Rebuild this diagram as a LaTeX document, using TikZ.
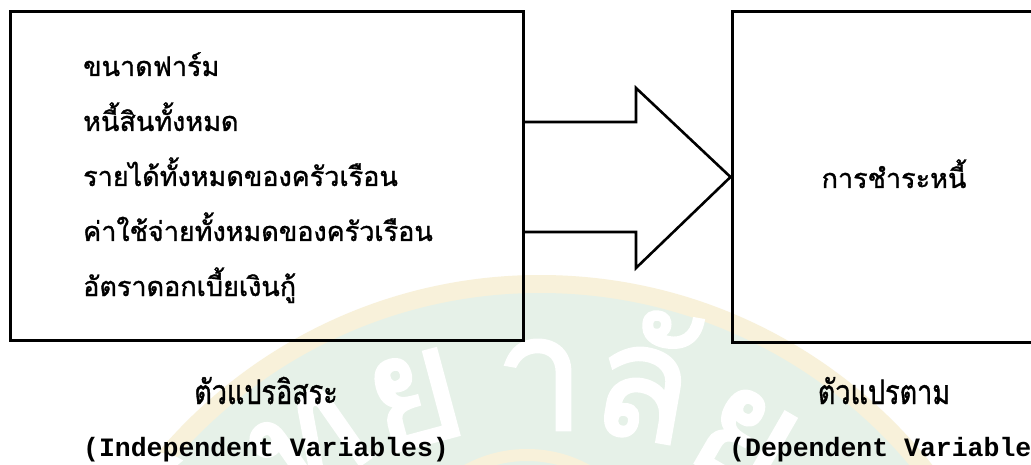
\documentclass[tikz,border=0pt]{standalone}
\usepackage{fontspec}
\usepackage{graphicx}
\newfontfamily\thaifont[Script=Thai,FakeBold=1.2]{Loma}
\newfontfamily\wmfont[Script=Thai,FakeBold=2]{Loma}
\newfontfamily\engfont{Liberation Mono}
\usetikzlibrary{calc}
\definecolor{wmgreen}{HTML}{E6F1E8}
\definecolor{wmcream}{HTML}{F8F1DA}
\newcommand{\tall}[1]{\scalebox{1}[1.25]{#1}}
\begin{document}
\begin{tikzpicture}[x=1pt,y=-1pt,
  box/.style={draw=black, line width=3pt, rectangle, inner sep=0pt},
  arrowline/.style={draw=black, line width=2.6pt, line join=miter},
  item/.style={anchor=base west, inner sep=0pt, font=\thaifont\fontsize{27}{27}\selectfont},
  thlabel/.style={anchor=base, inner sep=0pt, font=\thaifont\fontsize{27}{27}\selectfont},
  enlabel/.style={anchor=base, inner sep=0pt, font=\engfont\bfseries\fontsize{26.5}{26.5}\selectfont},
  wmletter/.style={inner sep=0pt, text=white, font=\wmfont\fontsize{160}{160}\selectfont}]
\useasboundingbox (0,0) rectangle (1031,465);
\fill[white] (0,0) rectangle (1031,465);
% watermark
\fill[wmcream] (540,775) circle[radius=500pt];
\fill[wmgreen] (540,775) circle[radius=482pt];
\draw[wmcream, line width=12pt] (527,580) circle[radius=125pt];
\node[wmletter, rotate=50] (w0) at (185,505) {วิ};
\node[wmletter, rotate=35] (w1) at (310,445) {ท};
\node[wmletter, rotate=15] (w2) at (415,400) {ย};
\node[wmletter] (w3) at (540,385) {า};
\node[wmletter, rotate=-10] (w4) at (645,375) {ลั};
\node[wmletter, rotate=-30] (w5) at (745,440) {ย};
% boxes
\node[box, minimum width=513pt, minimum height=328pt] (L) at (266.5,176) {};
\node[box, minimum width=328pt, minimum height=330pt] (R) at (896,177) {};
% items
\node[item] (i1) at (83,76) {ขนาดฟาร์ม};
\node[item] (i2) at (83,131) {หนี้สินทั้งหมด};
\node[item] (i3) at (83,186) {รายได้ทั้งหมดของครัวเรือน};
\node[item] (i4) at (83,241) {ค่าใช้จ่ายทั้งหมดของครัวเรือน};
\node[item] (i5) at (83,296) {อัตราดอกเบี้ยเงินกู้};
\node[thlabel] (r1) at (894,188) {การชำระหนี้};
% arrow
\coordinate (hb) at (636,177);
\draw[arrowline] ($(L.east)+(0,-54)$) -- ($(hb)+(0,-55)$) -- ($(hb)+(0,-89)$)
  -- (R.west) -- ($(hb)+(0,91)$) -- ($(hb)+(0,55)$) -- ($(L.east)+(0,56)$);
% labels
\node[thlabel] (lt) at (266,404) {\tall{ตัวแปรอิสระ}};
\node[enlabel] (le) at (266,456) {(Independent Variables)};
\node[thlabel] (rt) at (884,404) {\tall{ตัวแปรตาม}};
\node[enlabel, anchor=base west] (re) at (729,456) {(Dependent Variable};
\end{tikzpicture}
\end{document}
